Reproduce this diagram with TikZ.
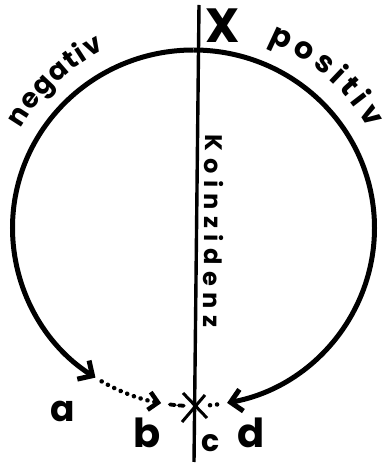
\documentclass[tikz,border=0pt]{standalone}
\usepackage{fontspec}
\setmainfont{Poppins}
\usetikzlibrary{arrows.meta,calc,decorations.text}
\begin{document}
\begin{tikzpicture}[x=1pt,y=1pt,
  ring/.style={line width=5pt},
  axisline/.style={line width=3.4pt},
  dotline/.style={line width=4.5pt, line cap=round, dash pattern=on 0.1pt off 7pt},
  dashline/.style={line width=3.8pt, line cap=round, dash pattern=on 5pt off 4pt},
  tipbig/.style={-{Straight Barb[length=11pt,width=22pt]}},
  tipsmall/.style={-{Straight Barb[length=9pt,width=18pt]}},
  lbl/.style={font=\bfseries\fontsize{36}{36}\selectfont, inner sep=0pt, anchor=base},
  arctext/.style={decorate, decoration={text along path, text={#1}, text align=fit to path}},
]
\useasboundingbox (0,0) rectangle (385,463);
\coordinate (O) at (193.5,235);
\coordinate (top) at ($(O)+(90:181 and 178)$);
\coordinate (LT) at (199,458);
\coordinate (LB) at (194,1);

% vertical line
\draw[axisline] (LT) -- (LB);

% left (negative) arc with arrow a
\draw[ring,tipbig] (top) arc[start angle=90, end angle=237.2, x radius=181, y radius=178] coordinate (A);
% dotted continuation to b
\draw[dotline,tipsmall] ($(O)+(239.5:181 and 178)$) arc[start angle=239.5, end angle=259.7, x radius=181, y radius=178] coordinate (B);
% dashes from b to c
\draw[dashline] ($(O)+(262.5:181 and 178)$) arc[start angle=262.5, end angle=267.5, x radius=181, y radius=178];

% right (positive) arc with arrow d
\draw[ring,tipbig] (top) arc[start angle=90, end angle=-79.3, x radius=181, y radius=178] coordinate (D);
\draw[dotline] ($(O)+(-82.5:181 and 178)$) arc[start angle=-82.5, end angle=-86, x radius=181, y radius=178];

% cross at c
\coordinate (c1) at (183,70);
\coordinate (c2) at (207,45);
\coordinate (c3) at (182,41);
\coordinate (c4) at (205,68);
\draw[axisline,line width=3pt] (c1) -- (c2);
\draw[axisline,line width=3pt] (c3) -- (c4);

% labels
\node[lbl] (la) at (63,41) {a};
\node[lbl,font=\bfseries\fontsize{40}{40}\selectfont] (lb) at (147,16) {b};
\node[lbl,font=\bfseries\fontsize{30}{30}\selectfont] (lc) at (211,12) {c};
\node[lbl,font=\bfseries\fontsize{40}{40}\selectfont] (ld) at (251,16) {d};
\node[lbl,font=\bfseries\fontsize{48}{48}\selectfont] (lx) at (223,420) {X};

% curved texts
\path[arctext={|\bfseries\fontsize{27}{27}\selectfont|negativ}] ($(O)+(150:199)$) arc[start angle=150, end angle=116.5, radius=199];
\path[arctext={|\bfseries\fontsize{30}{30}\selectfont|positiv}] ($(O)+(68:201)$) arc[start angle=68, end angle=29.6, radius=201];
\path[arctext={|\bfseries\fontsize{24}{24}\selectfont|Koinzidenz}] (205,328) -- (203.5,136);
\end{tikzpicture}
\end{document}
